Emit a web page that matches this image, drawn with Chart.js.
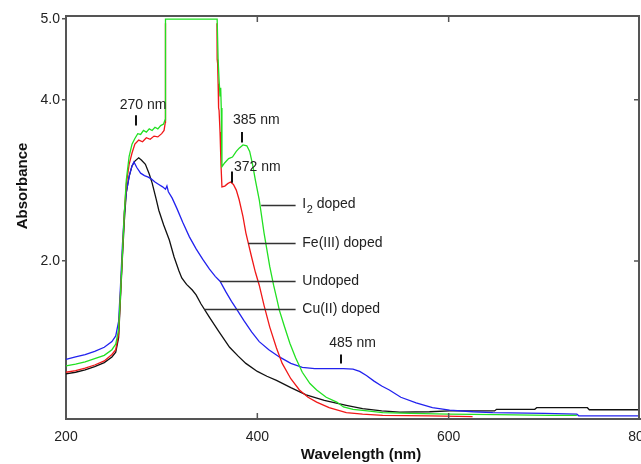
<!DOCTYPE html>
<html>
<head>
<meta charset="utf-8">
<script src="https://cdn.jsdelivr.net/npm/chart.js@4.4.1/dist/chart.umd.min.js"></script>
<style>
  html, body { margin: 0; padding: 0; background: #fff; }
</style>
</head>
<body>
<canvas id="uvChart" width="641" height="464"></canvas>
<script>
// wavelengths (nm) and absorbance
const wlI2 = [200, 210, 220, 230, 240, 248, 252, 255, 257, 259, 261, 263, 266, 269, 272, 275, 278, 281, 284, 287, 290, 293, 296, 299, 302, 303.5, 304, 358, 359, 360, 361, 361.7, 362.3, 363, 366, 370, 374, 378, 381, 385, 389, 392, 395, 398, 402, 407, 413, 417, 420, 423, 428, 434, 440, 447, 455, 462, 472, 483, 490, 500, 515, 531, 560, 600, 650, 706, 734];
const absI2 = [0.70, 0.72, 0.75, 0.79, 0.83, 0.90, 0.97, 1.15, 1.6, 2.1, 2.6, 3.0, 3.3, 3.45, 3.52, 3.58, 3.57, 3.62, 3.60, 3.64, 3.62, 3.66, 3.64, 3.68, 3.70, 3.75, 5.0, 5.0, 4.5, 4.25, 4.05, 4.15, 3.9, 3.17, 3.22, 3.27, 3.29, 3.36, 3.40, 3.44, 3.43, 3.36, 3.2, 3.0, 2.76, 2.35, 1.93, 1.70, 1.55, 1.39, 1.2, 0.98, 0.80, 0.62, 0.48, 0.40, 0.31, 0.25, 0.19, 0.16, 0.14, 0.12, 0.11, 0.10, 0.095, 0.085, 0.085];

// the Fe(III) trace is off-scale (under the green plateau) between 304 and 358 nm
const wlFe = [200, 210, 220, 230, 240, 248, 252, 255, 257, 259, 261, 263, 266, 269, 272, 276, 280, 284, 288, 292, 296, 300, 302.5, 303.8, 304, 330, 357.8, 358, 358.5, 359, 359.5, 360, 361, 362, 363, 366, 369, 372, 375, 378, 381, 385, 388, 394, 398, 402, 407, 413, 420, 426, 435, 444, 453, 462, 475, 493, 510, 531, 580, 625];
const absFe = [0.62, 0.64, 0.67, 0.71, 0.76, 0.84, 0.90, 1.1, 1.6, 2.1, 2.6, 2.95, 3.2, 3.34, 3.45, 3.50, 3.48, 3.53, 3.51, 3.55, 3.54, 3.58, 3.62, 3.72, 4.95, null, 4.95, 4.5, 4.45, 4.2, 3.9, 3.87, 3.6, 3.2, 2.92, 2.93, 2.96, 2.98, 2.95, 2.88, 2.76, 2.55, 2.35, 2.05, 1.86, 1.70, 1.45, 1.18, 0.92, 0.73, 0.54, 0.40, 0.31, 0.25, 0.18, 0.12, 0.10, 0.085, 0.08, 0.07];

const wlUndoped = [200, 210, 220, 230, 240, 248, 252, 255, 257, 259, 261, 263, 266, 269, 271, 274, 278, 282, 286, 289, 293, 297, 301, 304, 305.5, 307, 311, 316, 322, 329, 336, 343, 350, 356, 361, 367, 373, 379, 386, 394, 402, 412, 423, 435, 447, 460, 475, 490, 500, 507, 514, 522, 530, 538, 550, 566, 583, 601, 625, 646, 700, 734, 736, 800];
const absUndoped = [0.78, 0.81, 0.84, 0.88, 0.93, 1.00, 1.07, 1.25, 1.7, 2.2, 2.6, 2.85, 3.05, 3.18, 3.23, 3.16, 3.09, 3.06, 3.04, 3.02, 2.98, 2.95, 2.92, 2.89, 2.93, 2.86, 2.78, 2.65, 2.48, 2.30, 2.15, 2.02, 1.90, 1.81, 1.75, 1.62, 1.50, 1.39, 1.26, 1.12, 1.00, 0.90, 0.81, 0.73, 0.68, 0.665, 0.665, 0.665, 0.66, 0.63, 0.58, 0.51, 0.45, 0.40, 0.31, 0.24, 0.18, 0.15, 0.13, 0.12, 0.11, 0.10, 0.08, 0.08];

const wlCu = [200, 210, 220, 230, 240, 248, 252, 255, 257, 259, 261, 263, 266, 269, 272, 276, 279, 283, 287, 290, 294, 297, 302, 308, 313, 318, 321, 326, 332, 336, 341, 350, 360, 371, 380, 388, 400, 410, 420, 435, 451, 470, 493, 510, 530, 549, 580, 601, 648, 650, 690, 692, 745, 747, 800];
const absCu = [0.60, 0.62, 0.65, 0.69, 0.74, 0.81, 0.87, 1.05, 1.55, 2.05, 2.5, 2.85, 3.05, 3.18, 3.24, 3.28, 3.25, 3.20, 3.08, 2.97, 2.78, 2.63, 2.45, 2.26, 2.05, 1.88, 1.79, 1.71, 1.64, 1.58, 1.47, 1.30, 1.12, 0.93, 0.82, 0.73, 0.63, 0.57, 0.52, 0.43, 0.34, 0.27, 0.21, 0.17, 0.14, 0.125, 0.13, 0.14, 0.14, 0.16, 0.16, 0.18, 0.18, 0.155, 0.155];

const yTickValues = [2, 4, 5];
const xInnerTicks = [400, 600];
const yInnerTicks = [2, 4];

// peak annotations (nm / absorbance units)
const peakNames = ['270 nm', '385 nm', '372 nm', '485 nm'];
const peakMarkX = [273, 384, 373, 487];
const peakMarkTop = [3.81, 3.60, 3.11, 0.84];
const peakMarkBottom = [3.68, 3.47, 2.97, 0.73];
const peakTextX = [280.5, 399, 400, 499.5];
const peakTextY = [3.94, 3.75, 3.17, 0.98];

// curve labels with leader lines
const labelMain = ['I', 'Fe(III) doped', 'Undoped', 'Cu(II) doped'];
const leaderFrom = [404, 390.5, 361, 344.5];
const leaderTo = 440;
const leaderY = [2.70, 2.22, 1.75, 1.40];
const labelX = 447;

const pts = (xs, ys) => xs.map((x, i) => ({ x: x, y: ys[i] }));

const overlay = {
  id: 'overlay',
  afterDatasetsDraw(chart) {
    const c = chart.ctx, a = chart.chartArea;
    const xs = chart.scales.x, ys = chart.scales.y;
    c.save();
    // top and right frame
    c.strokeStyle = '#555';
    c.lineWidth = 2;
    c.beginPath();
    c.moveTo(a.left, a.top);
    c.lineTo(a.right - 1, a.top);
    c.lineTo(a.right - 1, a.bottom);
    c.stroke();
    c.lineWidth = 1.5;
    c.beginPath();
    xInnerTicks.forEach(v => {
      const px = xs.getPixelForValue(v);
      c.moveTo(px, a.bottom); c.lineTo(px, a.bottom - 6);
      c.moveTo(px, a.top); c.lineTo(px, a.top + 6);
    });
    yInnerTicks.forEach(v => {
      const py = ys.getPixelForValue(v);
      c.moveTo(a.right, py); c.lineTo(a.right - 6, py);
    });
    c.stroke();

    // peak marks
    c.strokeStyle = '#111';
    c.lineWidth = 2;
    c.beginPath();
    peakMarkX.forEach((v, i) => {
      const px = Math.round(xs.getPixelForValue(v));
      c.moveTo(px, ys.getPixelForValue(peakMarkTop[i]));
      c.lineTo(px, ys.getPixelForValue(peakMarkBottom[i]));
    });
    c.stroke();
    c.fillStyle = '#222';
    c.font = '14px "Liberation Sans", Arial, sans-serif';
    c.textAlign = 'center';
    c.textBaseline = 'middle';
    peakNames.forEach((t, i) => {
      c.fillText(t, xs.getPixelForValue(peakTextX[i]), ys.getPixelForValue(peakTextY[i]));
    });

    // leader lines + labels
    c.strokeStyle = '#333';
    c.lineWidth = 1.5;
    c.beginPath();
    leaderY.forEach((v, i) => {
      const py = Math.round(ys.getPixelForValue(v)) + 0.5;
      c.moveTo(xs.getPixelForValue(leaderFrom[i]), py);
      c.lineTo(xs.getPixelForValue(leaderTo), py);
    });
    c.stroke();
    c.textAlign = 'left';
    labelMain.forEach((t, i) => {
      const px = xs.getPixelForValue(labelX);
      const py = ys.getPixelForValue(leaderY[i]);
      c.font = '14px "Liberation Sans", Arial, sans-serif';
      c.fillText(t, px, py);
      if (i === 0) {
        const w = c.measureText(t).width;
        c.font = '11px "Liberation Sans", Arial, sans-serif';
        c.fillText('2', px + w + 0.5, py + 5);
        const w2 = c.measureText('2').width;
        c.font = '14px "Liberation Sans", Arial, sans-serif';
        c.fillText(' doped', px + w + w2 + 0.5, py);
      }
    });

    // axis titles
    c.fillStyle = '#111';
    c.font = 'bold 15px "Liberation Sans", Arial, sans-serif';
    c.textAlign = 'center';
    c.textBaseline = 'alphabetic';
    c.fillText('Wavelength (nm)', 361, 459);
    c.translate(27, 186);
    c.rotate(-Math.PI / 2);
    c.fillText('Absorbance', 0, 0);
    c.restore();
  }
};

// Chart.js paints dataset 0 last, so the green trace sits on top
const ctx = document.getElementById('uvChart').getContext('2d');
const uvChart = new Chart(ctx, {
  type: 'line',
  data: {
    datasets: [
      { label: 'I2 doped', data: pts(wlI2, absI2), borderColor: '#22e022' },
      { label: 'Fe(III) doped', data: pts(wlFe, absFe), borderColor: '#f01818' },
      { label: 'Undoped', data: pts(wlUndoped, absUndoped), borderColor: '#2222ee' },
      { label: 'Cu(II) doped', data: pts(wlCu, absCu), borderColor: '#111111' }
    ]
  },
  options: {
    responsive: false,
    animation: false,
    clip: false,
    layout: { padding: { top: 16, right: 1, left: 0, bottom: 0 } },
    elements: {
      point: { radius: 0 },
      line: { borderWidth: 1.3, tension: 0 }
    },
    plugins: {
      legend: { display: false },
      tooltip: { enabled: false }
    },
    scales: {
      x: {
        type: 'linear',
        min: 200,
        max: 800,
        afterFit(s) { s.height = 45; s.paddingLeft = 0; s.paddingRight = 0; },
        ticks: {
          stepSize: 200,
          padding: 10,
          color: '#222',
          maxRotation: 0,
          font: { family: '"Liberation Sans", Arial, sans-serif', size: 14 }
        },
        grid: { display: false, drawTicks: false },
        border: { display: true, color: '#555', width: 2 }
      },
      y: {
        type: 'linear',
        min: 0.04,
        max: 5.04,
        afterFit(s) { s.width = 66; s.paddingTop = 0; s.paddingBottom = 0; },
        afterBuildTicks(s) { s.ticks = yTickValues.map(v => ({ value: v })); },
        ticks: {
          padding: 2,
          color: '#222',
          callback: v => v.toFixed(1),
          font: { family: '"Liberation Sans", Arial, sans-serif', size: 14 }
        },
        grid: { drawOnChartArea: false, drawTicks: true, tickLength: 4, color: '#555', lineWidth: 1.5 },
        border: { display: true, color: '#555', width: 2 }
      }
    }
  },
  plugins: [overlay]
});
</script>
</body>
</html>
